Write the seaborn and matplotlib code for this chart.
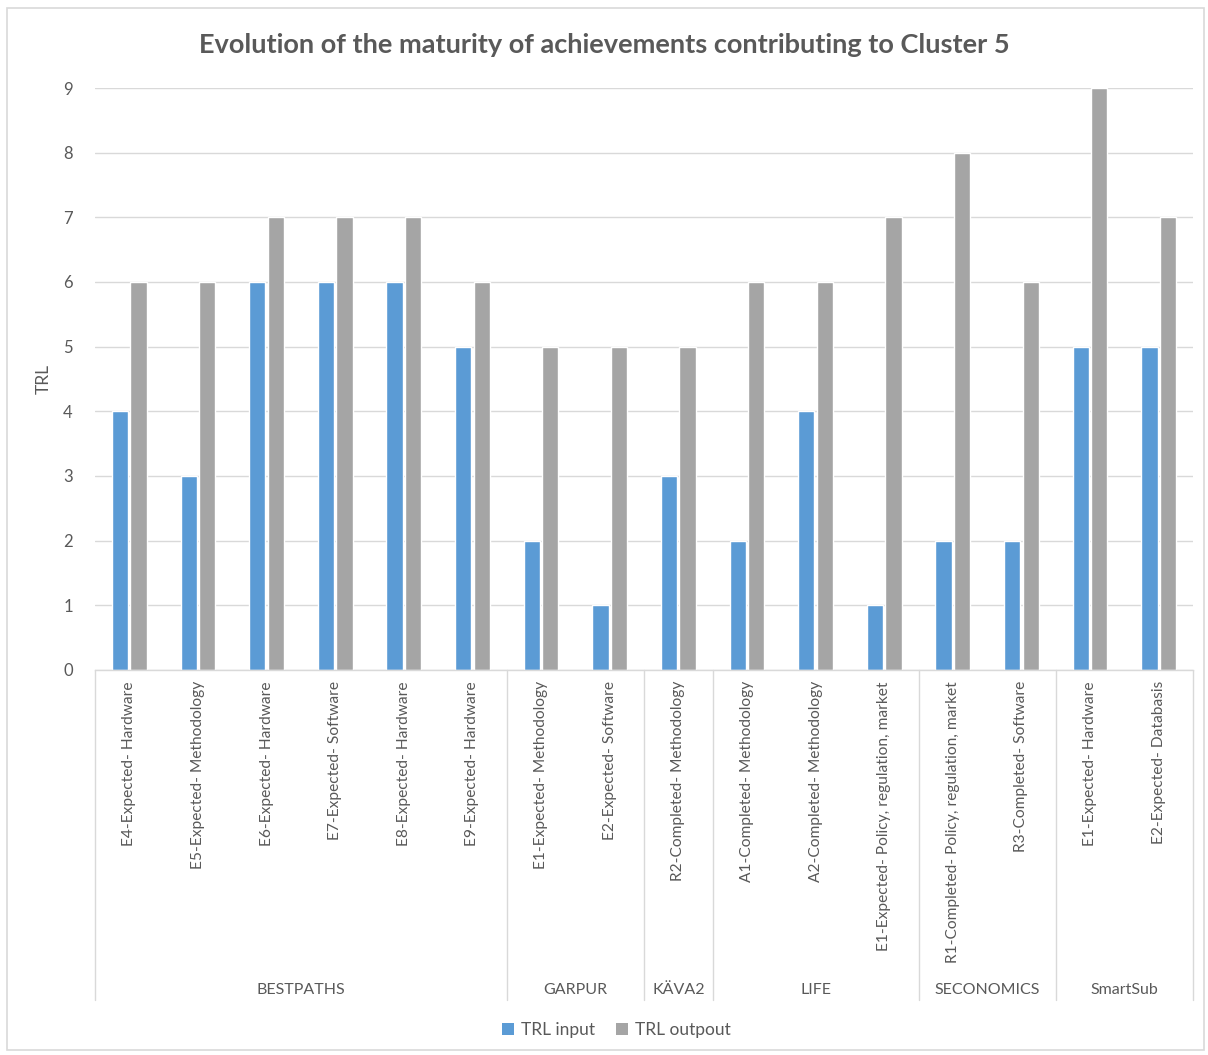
import matplotlib
matplotlib.use("Agg")
import matplotlib.pyplot as plt
import matplotlib.transforms as mtransforms
from matplotlib.patches import Rectangle, Patch
import seaborn as sns
import pandas as pd

# ---- data ----
labels = [
    "E4-Expected- Hardware", "E5-Expected- Methodology", "E6-Expected- Hardware",
    "E7-Expected- Software", "E8-Expected- Hardware", "E9-Expected- Hardware",
    "E1-Expected- Methodology", "E2-Expected- Software",
    "R2-Completed- Methodology",
    "A1-Completed- Methodology", "A2-Completed- Methodology",
    "E1-Expected- Policy, regulation, market",
    "R1-Completed- Policy, regulation, market", "R3-Completed- Software",
    "E1-Expected- Hardware", "E2-Expected- Databasis",
]
groups = ["BESTPATHS", "GARPUR", "KÄVA2", "LIFE", "SECONOMICS", "SmartSub"]
group_sizes = [6, 2, 1, 3, 2, 2]
trl_input = [4, 3, 6, 6, 6, 5, 2, 1, 3, 2, 4, 1, 2, 2, 5, 5]
trl_output = [6, 6, 7, 7, 7, 6, 5, 5, 5, 6, 6, 7, 8, 6, 9, 7]
series_names = ["TRL input", "TRL outpout"]
title = "Evolution of the maturity of achievements contributing to Cluster 5"

keys = [f"c{i:02d}" for i in range(len(labels))]
df = pd.DataFrame({
    "key": keys * 2,
    "value": trl_input + trl_output,
    "series": [series_names[0]] * len(keys) + [series_names[1]] * len(keys),
})

sns.set_theme(style="white")
plt.rcParams["font.family"] = ["Lato", "DejaVu Sans"]
TXT = "#595959"
GRID = "#D9D9D9"
colors = ["#5B9BD5", "#A5A5A5"]

fig = plt.figure(figsize=(12.08, 10.55), dpi=100)
ax = fig.add_axes([95 / 1208, 1 - 670 / 1055, (1193 - 95) / 1208, (670 - 88) / 1055])

sns.barplot(data=df, x="key", y="value", hue="series", order=keys,
            hue_order=series_names, palette=colors, width=0.54, gap=0.12,
            saturation=1, ax=ax, legend=False)

ax.set_xlim(-0.5, len(keys) - 0.5)
ax.set_ylim(0, 9)
ax.set_yticks(range(10))
ax.set_yticklabels([str(i) for i in range(10)], fontsize=12, color=TXT)
ax.tick_params(axis="y", length=0, pad=16)
ax.tick_params(axis="x", length=0, pad=8)
ax.set_xticks(range(len(keys)))
ax.set_xticklabels(labels, rotation=90, fontsize=11.2, color=TXT, va="top", ha="center")
ax.set_xlabel("")
ax.set_ylabel("TRL", fontsize=12.5, color=TXT, labelpad=8)
ax.yaxis.grid(True, color=GRID, linewidth=1)
ax.set_axisbelow(True)
for s in ["top", "right", "left"]:
    ax.spines[s].set_visible(False)
ax.spines["bottom"].set_color(GRID)
ax.spines["bottom"].set_linewidth(1)

# group separators and labels
trans = mtransforms.blended_transform_factory(ax.transData, ax.transAxes)
bottom_ax = (1000 - 670) / (670 - 88)
label_ax = (990 - 670) / (670 - 88)
pos = -0.5
bounds = [pos]
for n in group_sizes:
    pos += n
    bounds.append(pos)
for b in bounds:
    ax.plot([b, b], [0, -bottom_ax], transform=trans, color=GRID, lw=1, clip_on=False)
for g, a, b in zip(groups, bounds[:-1], bounds[1:]):
    ax.text((a + b) / 2, -label_ax, g, transform=trans, ha="center", va="center",
            fontsize=11.5, color=TXT)

fig.text(0.5, 1 - 45 / 1055, title, ha="center", va="center", fontsize=19.5,
         fontweight="bold", color=TXT)

handles = [Patch(facecolor=c, edgecolor="none") for c in colors]
fig.legend(handles, series_names, loc="center", bbox_to_anchor=(0.51, 1 - 1030 / 1055),
           ncol=2, frameon=False, fontsize=12.5, labelcolor=TXT, handlelength=0.7,
           handleheight=0.7, handletextpad=0.4, columnspacing=1.2)

fig.patches.append(Rectangle((7 / 1208, 1 - 1050 / 1055), 1197 / 1208, 1042 / 1055,
                             transform=fig.transFigure, fill=False, edgecolor=GRID, lw=1.2))

fig.savefig("out.png", dpi=100, facecolor="white")
